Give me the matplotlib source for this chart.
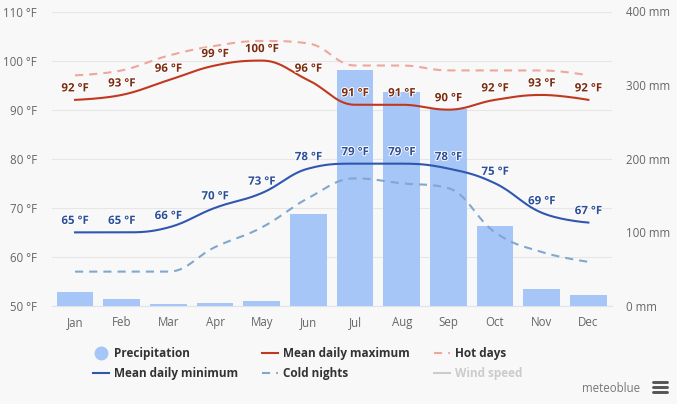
import numpy as np
import matplotlib
matplotlib.use("Agg")
import matplotlib.pyplot as plt
import matplotlib.patheffects as pe
from matplotlib.lines import Line2D

months = ["Jan", "Feb", "Mar", "Apr", "May", "Jun", "Jul", "Aug", "Sep", "Oct", "Nov", "Dec"]
precip = [19, 10, 3, 4, 7, 125, 321, 291, 268, 109, 23, 15]
mean_max = [92, 93, 96, 99, 100, 96, 91, 91, 90, 92, 93, 92]
mean_min = [65, 65, 66, 70, 73, 78, 79, 79, 78, 75, 69, 67]
hot_days = [97, 98, 101, 103, 104, 103.5, 99, 99, 98, 98, 98, 97]
cold_nights = [57, 57, 57, 62, 66, 72, 76, 75, 74, 65, 61, 59]
temp_ticks = [50, 60, 70, 80, 90, 100, 110]
mm_ticks = [0, 100, 200, 300, 400]

W, H = 677, 404
BG = "#f8f8f8"
plt.rcParams["font.family"] = ["Open Sans", "DejaVu Sans"]
fig = plt.figure(figsize=(W / 100, H / 100), dpi=100, facecolor=BG)
rect = [51.7 / W, 1 - 306 / H, 560 / W, 294.5 / H]

ax = fig.add_axes(rect, facecolor=BG, zorder=1)
bar_ax = ax.twinx()
bar_ax.set_zorder(2)
bar_ax.patch.set_visible(False)
line_ax = ax.twinx()
line_ax.set_zorder(3)
line_ax.patch.set_visible(False)

x = np.arange(12)
for a in (ax, bar_ax, line_ax):
    a.set_xlim(-0.5, 11.5)
    for s in a.spines.values():
        s.set_visible(False)
ax.set_ylim(50, 110)
line_ax.set_ylim(50, 110)
bar_ax.set_ylim(0, 400)

ax.set_yticks(temp_ticks, [f"{t} °F" for t in temp_ticks], fontsize=8.3, color="#666666")
ax.set_xticks(x, months, fontsize=8.3, color="#666666")
ax.tick_params(axis="y", length=0, pad=10.6)
ax.tick_params(axis="x", length=0, pad=7.5)
ax.grid(axis="y", color="#e6e6e6", lw=0.8)
ax.set_axisbelow(True)
ax.spines["bottom"].set_visible(True)
ax.spines["bottom"].set_color("#dfe3ea")
bar_ax.set_yticks(mm_ticks, [f"{t} mm" for t in mm_ticks], fontsize=8.3, color="#666666")
bar_ax.tick_params(axis="y", length=0, pad=10.6)
line_ax.set_yticks([])

bar_ax.bar(x, precip, width=0.79, color="#a6c6f8")


def spline(xs, ys, smoothing=1.5):
    """Spline with flat-clamped control points, evaluated as cubic Beziers."""
    xs = np.asarray(xs, float)
    ys = np.asarray(ys, float)
    n = len(xs)
    L, R = [None] * n, [None] * n
    for i in range(n):
        if i == 0 or i == n - 1:
            L[i] = R[i] = (xs[i], ys[i])
            continue
        lx = (smoothing * xs[i] + xs[i - 1]) / (smoothing + 1)
        ly = (smoothing * ys[i] + ys[i - 1]) / (smoothing + 1)
        rx = (smoothing * xs[i] + xs[i + 1]) / (smoothing + 1)
        ry = (smoothing * ys[i] + ys[i + 1]) / (smoothing + 1)
        a = (ry - ly) / (rx - lx)
        b = ly - a * lx
        ly, ry = a * lx + b, a * rx + b
        c = ys[i] - (a * xs[i] + b)
        ly += c
        ry += c
        lo, hi = min(ys[i - 1], ys[i]), max(ys[i - 1], ys[i])
        if ly > hi:
            ly, ry = hi, 2 * ys[i] - hi
        elif ly < lo:
            ly, ry = lo, 2 * ys[i] - lo
        lo, hi = min(ys[i + 1], ys[i]), max(ys[i + 1], ys[i])
        if ry > hi:
            ry, ly = hi, 2 * ys[i] - hi
        elif ry < lo:
            ry, ly = lo, 2 * ys[i] - lo
        L[i], R[i] = (lx, ly), (rx, ry)
    t = np.linspace(0, 1, 30)[:, None]
    out = []
    for i in range(n - 1):
        p0 = np.array([xs[i], ys[i]])
        p3 = np.array([xs[i + 1], ys[i + 1]])
        p1, p2 = np.array(R[i]), np.array(L[i + 1])
        out.append((1 - t) ** 3 * p0 + 3 * (1 - t) ** 2 * t * p1 + 3 * (1 - t) * t ** 2 * p2 + t ** 3 * p3)
    pts = np.vstack(out)
    return pts[:, 0], pts[:, 1]


C_MAX, C_MIN, C_HOT, C_COLD = "#c0391f", "#2f57b0", "#eda79c", "#80a8cc"
DASH = (3.9, 2.9)
line_ax.plot(*spline(x, hot_days), color=C_HOT, lw=1.5, dashes=DASH)
line_ax.plot(*spline(x, cold_nights), color=C_COLD, lw=1.5, dashes=DASH)
line_ax.plot(*spline(x, mean_max), color=C_MAX, lw=1.5)
line_ax.plot(*spline(x, mean_min), color=C_MIN, lw=1.5)

halo = [pe.withStroke(linewidth=1.4, foreground="#ffffff")]
for series, col in ((mean_max, "#7c2c10"), (mean_min, "#2d4f98")):
    for xi, v in zip(x, series):
        line_ax.annotate(f"{v} °F", (xi, v), xytext=(0, 8.6), textcoords="offset points",
                         ha="center", va="center", fontsize=8.3, fontweight="bold",
                         color=col, path_effects=halo)

handles = [
    Line2D([], [], ls="none", marker="o", ms=9, color="#a6c6f8"),
    Line2D([], [], color=C_MIN, lw=1.5),
    Line2D([], [], color=C_MAX, lw=1.5),
    Line2D([], [], color=C_COLD, lw=1.5, dashes=DASH),
    Line2D([], [], color=C_HOT, lw=1.5, dashes=DASH),
    Line2D([], [], color="#cccccc", lw=1.5),
]
labels = ["Precipitation", "Mean daily minimum", "Mean daily maximum", "Cold nights", "Hot days", "Wind speed"]
leg = fig.legend(handles, labels, ncols=3, loc="upper left",
                 bbox_to_anchor=(93 / W, 1 - 347 / H), frameon=False,
                 prop={"size": 8.5, "weight": "bold"}, borderpad=0, borderaxespad=0,
                 handlelength=1.36, handletextpad=0.45, columnspacing=2.0, labelspacing=0.62)
for t in leg.get_texts():
    t.set_color("#333333")
leg.get_texts()[-1].set_color("#cccccc")

fig.text(640.5 / W, 1 - 388 / H, "meteoblue", ha="right", va="center", fontsize=8.3, color="#777777")
for yy in (382, 387, 392):
    fig.add_artist(Line2D([653 / W, 667 / W], [1 - yy / H] * 2, color="#555555", lw=2.1, solid_capstyle="round"))

fig.savefig("out.png", dpi=100, facecolor=BG)
